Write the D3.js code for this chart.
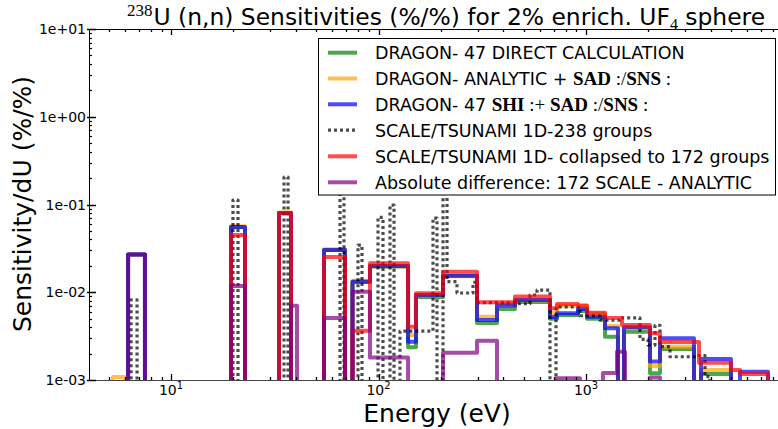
<!DOCTYPE html>
<html><head><meta charset="utf-8">
<script src="https://cdn.jsdelivr.net/npm/d3@7"></script>
<style>body{margin:0;background:#fff} svg{display:block}</style>
</head><body>
<svg id="c" width="778" height="429"></svg>
<script>
// ---------- data (energy bins in eV: [low, high, sensitivity %/%]) ----------
const xDomain = [4.025, 8421];
const yDomain = [1e-3, 10];
const yTicks = [1e-3, 1e-2, 1e-1, 1, 10];
const yTickLabels = ["1e-03", "1e-02", "1e-01", "1e+00", "1e+01"];
const xTicks = [10, 100, 1000];
const xTickExps = ["1", "2", "3"];

const dragonDirect = [
  [6.21, 7.49, 0.027], [19.46, 22.73, 0.0554], [33.15, 37.87, 0.080], [54.62, 68.96, 0.0303],
  [74.93, 90.99, 0.0132], [90.99, 138.8, 0.0196], [138.8, 151.6, 0.00236], [151.6, 204.6, 0.0088],
  [204.6, 298.4, 0.0153], [298.4, 372.5, 0.00446], [372.5, 454.9, 0.00644], [454.9, 670.7, 0.00775],
  [670.7, 724.9, 0.0050], [724.9, 915.0, 0.0055], [915.0, 1011, 0.0061], [1011, 1235, 0.0050],
  [1235, 1426, 0.00311], [1524, 2034, 0.00355], [2034, 2273, 0.00119], [2273, 3315, 0.00226],
  [3583, 4997, 0.00117]
];
const dragonAnalytic = [
  [5.25, 6.00, 0.00108], [19.46, 22.73, 0.0565], [33.15, 37.87, 0.081], [54.62, 68.96, 0.031],
  [74.93, 90.99, 0.0135], [90.99, 138.8, 0.0198], [138.8, 151.6, 0.00326], [151.6, 204.6, 0.0093],
  [204.6, 298.4, 0.0152], [298.4, 372.5, 0.00527], [372.5, 454.9, 0.0073], [454.9, 670.7, 0.0081],
  [670.7, 724.9, 0.0058], [724.9, 915.0, 0.0070], [915.0, 1011, 0.0071], [1011, 1235, 0.0057],
  [1235, 1426, 0.00412], [1524, 2034, 0.0039], [2034, 2273, 0.00144], [2273, 3315, 0.0024],
  [3583, 4997, 0.0013]
];
const dragonShi = [
  [6.21, 7.49, 0.027], [19.46, 22.73, 0.0554], [33.15, 37.87, 0.080], [54.62, 68.96, 0.0303],
  [74.93, 90.99, 0.0132], [90.99, 138.8, 0.0199], [138.8, 151.6, 0.00273], [151.6, 204.6, 0.0093],
  [204.6, 298.4, 0.01544], [298.4, 372.5, 0.00483], [372.5, 454.9, 0.00706], [454.9, 670.7, 0.00816],
  [670.7, 724.9, 0.00523], [724.9, 915.0, 0.00575], [915.0, 1011, 0.00645], [1011, 1235, 0.00527],
  [1235, 1426, 0.00388], [1524, 2034, 0.00399], [2034, 2273, 0.00162], [2273, 3315, 0.00299],
  [3583, 4997, 0.00173], [5524, 7537, 0.00124]
];
const scale238 = [
  [6.42, 6.86, 0.0082], [19.89, 21.03, 0.1125], [35.04, 36.64, 0.2056], [65.24, 68.19, 0.3],
  [79.63, 83.25, 0.0345], [99.45, 105.1, 0.0714], [113.6, 118.8, 0.0986], [126.9, 183.1, 0.0036],
  [183.1, 191.4, 0.07], [204.6, 213.9, 0.3], [213.9, 238.9, 0.0132], [238.9, 285.4, 0.0098],
  [285.4, 298.4, 0.013], [298.4, 454.9, 0.0076], [454.9, 537.2, 0.0074], [537.2, 580.6, 0.0093],
  [580.6, 670.7, 0.0106], [716.9, 935.6, 0.00679], [935.6, 1168, 0.0054], [1168, 1458, 0.0048],
  [1458, 1820, 0.0051], [1820, 1990, 0.0029], [1990, 2150, 0.0025], [2150, 2273, 0.0042],
  [2273, 2540, 0.0024], [2540, 3426, 0.00184], [3426, 3746, 0.0019], [3746, 3959, 0.00109]
];
const scale172 = [
  [19.46, 22.73, 0.0449], [33.15, 37.87, 0.080], [54.62, 68.96, 0.0252],
  [74.93, 90.99, 0.00365], [90.99, 138.8, 0.0214], [138.8, 151.6, 0.00405], [151.6, 204.6, 0.00973],
  [204.6, 298.4, 0.01714], [298.4, 454.9, 0.0077], [454.9, 670.7, 0.00895], [670.7, 724.9, 0.00656],
  [724.9, 915.0, 0.00735], [915.0, 1011, 0.0070], [1011, 1235, 0.00585], [1235, 1491, 0.0051],
  [1491, 2034, 0.00423], [2034, 2273, 0.0034], [2273, 3504, 0.00271], [3504, 4997, 0.00157],
  [4997, 5524, 0.0013], [5524, 7537, 0.00117]
];
const absDiff = [
  [6.21, 7.49, 0.027], [19.46, 22.73, 0.0118], [37.87, 40.48, 0.007], [54.62, 68.96, 0.0051],
  [74.93, 90.99, 0.0101], [90.99, 138.8, 0.0018], [204.6, 298.4, 0.00205], [298.4, 372.5, 0.0028],
  [716.9, 935.6, 0.00105], [1207, 1411, 0.0012], [1411, 1542, 0.0021], [2034, 2273, 0.00107]
];

const seriesNames = [
  "DRAGON- 47 DIRECT CALCULATION",
  "DRAGON- ANALYTIC + SAD:/SNS:",
  "DRAGON- 47 SHI:+ SAD:/SNS:",
  "SCALE/TSUNAMI 1D-238 groups",
  "SCALE/TSUNAMI 1D- collapsed to 172 groups",
  "Absolute difference: 172 SCALE - ANALYTIC"
];
const seriesColors = ["#008000", "#ffa500", "#0000ff", "#000000", "#ff0000", "#800080"];

// ---------- drawing ----------
const L = 89, R = 778, T = 29, B = 380;
const svg = d3.select("#c");
const x = d3.scaleLog().domain(xDomain).range([L, R]);
const y = d3.scaleLog().domain(yDomain).range([B, T]);
const FLOOR = 1e-6;

svg.append("defs").append("clipPath").attr("id", "clip")
  .append("rect").attr("x", L).attr("y", T).attr("width", R - L).attr("height", B - T);

function stepPoints(bins) {
  const pts = []; let prevHi = null;
  bins.forEach(([lo, hi, v]) => {
    if (prevHi === null || Math.abs(lo - prevHi) / lo > 1e-6) {
      if (prevHi !== null) pts.push([prevHi, FLOOR]);
      pts.push([lo, FLOOR]);
    }
    pts.push([lo, v]); pts.push([hi, v]); prevHi = hi;
  });
  pts.push([prevHi, FLOOR]);
  return pts;
}
const line = d3.line().x(d => x(d[0])).y(d => y(d[1]));
const allSeries = [dragonDirect, dragonAnalytic, dragonShi, scale238, scale172, absDiff];

const gPlot = svg.append("g").attr("clip-path", "url(#clip)");
allSeries.forEach((s, i) => {
  const p = gPlot.append("path").attr("d", line(stepPoints(s)))
    .attr("fill", "none").attr("stroke", seriesColors[i])
    .attr("stroke-opacity", 0.7).attr("stroke-linejoin", "round");
  if (i === 3) p.attr("stroke-width", 3.2).attr("stroke-dasharray", "3,3");
  else p.attr("stroke-width", 4);
});

// axes frame
const gAx = svg.append("g").attr("stroke", "#000");
gAx.append("line").attr("x1", L).attr("x2", R).attr("y1", T + 0.5).attr("y2", T + 0.5).attr("stroke-width", 1);
gAx.append("line").attr("x1", L).attr("x2", R).attr("y1", B + 0.5).attr("y2", B + 0.5).attr("stroke-width", 1.2).attr("stroke", "#444");
gAx.append("line").attr("x1", L + 0.5).attr("x2", L + 0.5).attr("y1", T).attr("y2", B).attr("stroke-width", 1);

// x ticks (major + minor) top and bottom, pointing inward
const xMinor = [];
for (let d = 1; d <= 1000; d *= 10) for (let k = 1; k <= 9; k++) { const v = k * d; if (v > xDomain[0] && v < xDomain[1]) xMinor.push(v); }
xMinor.forEach(v => {
  const major = xTicks.includes(v); const len = major ? 6 : 3;
  const xx = Math.round(x(v)) + 0.5;
  gAx.append("line").attr("x1", xx).attr("x2", xx).attr("y1", B).attr("y2", B - len).attr("stroke-width", 1.3);
  gAx.append("line").attr("x1", xx).attr("x2", xx).attr("y1", T).attr("y2", T + len).attr("stroke-width", 1.3);
});
// y ticks
const yMinor = [];
for (let d = 1e-3; d < 10; d *= 10) for (let k = 2; k <= 9; k++) yMinor.push(k * d);
yMinor.forEach(v => {
  const yy = Math.round(y(v)) + 0.5;
  gAx.append("line").attr("x1", L).attr("x2", L + 3).attr("y1", yy).attr("y2", yy).attr("stroke-width", 1.2);
});
yTicks.forEach(v => {
  const yy = Math.round(y(v)) + 0.5;
  gAx.append("line").attr("x1", L - 2).attr("x2", L + 7).attr("y1", yy).attr("y2", yy).attr("stroke-width", 1.5);
});

// tick labels
const font = "'DejaVu Sans', Verdana, sans-serif";
yTicks.forEach((v, i) => {
  svg.append("text").attr("x", 86).attr("y", y(v) + 5).attr("text-anchor", "end")
    .attr("font-family", font).attr("font-size", 14).attr("fill", "#000").text(yTickLabels[i]);
});
xTicks.forEach((v, i) => {
  const t = svg.append("text").attr("x", x(v)).attr("y", 395).attr("text-anchor", "middle")
    .attr("font-family", font).attr("font-size", 14).attr("fill", "#000");
  t.append("tspan").text("10");
  t.append("tspan").attr("dy", -6).attr("font-size", 10).text(xTickExps[i]);
});

// axis labels
svg.append("text").attr("x", 437).attr("y", 422).attr("text-anchor", "middle")
  .attr("font-family", font).attr("font-size", 25).text("Energy (eV)");
svg.append("text").attr("transform", "translate(31,204) rotate(-90)").attr("text-anchor", "middle")
  .attr("font-family", font).attr("font-size", 25).text("Sensitivity/dU (%/%)");

// title
const serif = "'Liberation Serif', 'DejaVu Serif', serif";
const tt = svg.append("text").attr("x", 127).attr("y", 25).attr("font-family", font).attr("font-size", 23.4);
tt.append("tspan").attr("font-family", serif).attr("font-size", 17).attr("dy", -9).text("238");
tt.append("tspan").attr("dy", 9).attr("dx", 1).text("U (n,n) Sensitivities (%/%) for 2% enrich. UF");
tt.append("tspan").attr("font-family", serif).attr("font-size", 16).attr("dy", 5).text("4");
tt.append("tspan").attr("dy", -5).text(" sphere");

// legend
const lg = svg.append("g");
lg.append("rect").attr("x", 318.5).attr("y", 38.5).attr("width", 457).attr("height", 156.5)
  .attr("fill", "#fff").attr("stroke", "#000").attr("stroke-width", 1);
const rowY = [52.7, 78.5, 104.3, 130.2, 156.3, 182.3];
const parts = [
  [["DRAGON- 47 DIRECT CALCULATION", 0]],
  [["DRAGON- ANALYTIC + ", 0], ["SAD", 2], [" :/", 1], ["SNS", 2], [" :", 1]],
  [["DRAGON- 47 ", 0], ["SHI", 2], [" :+ ", 1], ["SAD", 2], [" :/", 1], ["SNS", 2], [" :", 1]],
  [["SCALE/TSUNAMI 1D-238 groups", 0]],
  [["SCALE/TSUNAMI 1D- collapsed to 172 groups", 0]],
  [["Absolute difference: 172 SCALE - ANALYTIC", 0]]
];
seriesNames.forEach((name, i) => {
  const ly = rowY[i];
  const ln = lg.append("line").attr("x1", 328).attr("x2", 357).attr("y1", ly).attr("y2", ly)
    .attr("stroke", seriesColors[i]).attr("stroke-opacity", 0.7);
  if (i === 3) ln.attr("stroke-width", 3.2).attr("stroke-dasharray", "3,3");
  else ln.attr("stroke-width", 4);
  const t = lg.append("text").attr("x", 375).attr("y", ly + 6.3).attr("font-family", font)
    .attr("font-size", 17.5).attr("fill", "#000").attr("xml:space", "preserve");
  parts[i].forEach(([s, kind]) => {
    const sp = t.append("tspan").text(s);
    if (kind === 2) sp.attr("font-family", serif).attr("font-weight", "bold").attr("font-size", 19);
    if (kind === 1) sp.attr("font-family", serif).attr("font-size", 19);
  });
});
</script>
</body></html>
